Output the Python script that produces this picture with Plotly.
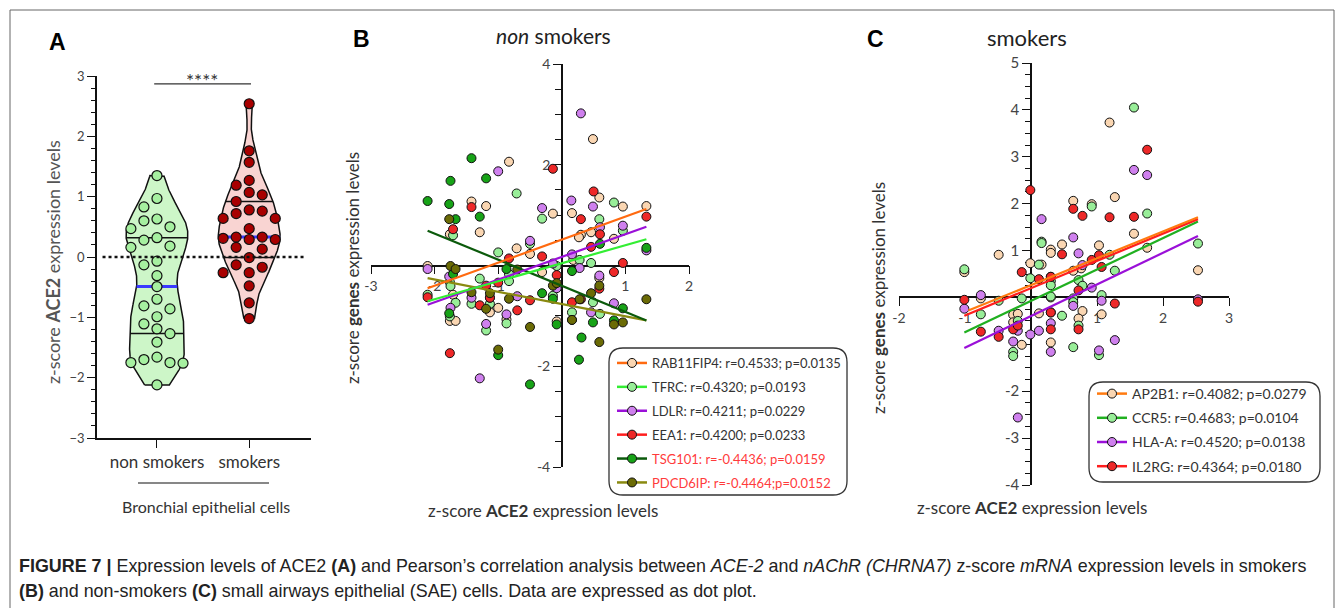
import numpy as np
import plotly.graph_objects as go

W, H = 1344, 608
OFF = 8  # page margin of the photographed page
FONT = "Lato, 'Open Sans', sans-serif"
GREY = "#444444"

# ---------------- Panel A data ----------------
a_categories = ["non smokers", "smokers"]
a_nonsmokers = [1.35, 0.97, 0.83, 0.60, 0.63, 0.50, 0.47, 0.32, 0.28, 0.18, 0.16, -0.07, -0.13,
                -0.31, -0.49, -0.70, -0.86, -0.81, -0.99, -1.11, -1.27, -1.19, -1.41, -1.75,
                -1.66, -1.76, -1.70, -1.75, -2.12]
a_smokers = [2.54, 1.76, 1.57, 1.27, 1.19, 1.07, 1.03, 0.92, 0.72, 0.76, 0.78, 0.64, 0.64, 0.47,
             0.29, 0.33, 0.29, 0.33, 0.31, 0.16, 0.13, -0.01, -0.13, -0.17, -0.26, -0.26, -0.48,
             -0.76, -1.02]

# ---------------- Panel B data (non smokers) ----------------
b_labels = ["RAB11FIP4: r=0.4533; p=0.0135", "TFRC: r=0.4320; p=0.0193",
            "LDLR: r=0.4211; p=0.0229", "EEA1: r=0.4200; p=0.0233",
            "TSG101: r=-0.4436; p=0.0159", "PDCD6IP: r=-0.4464;p=0.0152"]
b_rab_x = [-2.11, -1.76, -1.71, -1.76, -1.67, -1.42, -1.29, -1.19, -1.13, -1.00, -0.83, -0.71, -0.87,
           -0.50, -0.31, -0.14, -0.08, 0.16, 0.18, 0.30, 0.27, 0.49, 0.46, 0.59, 0.59, 0.82, 0.96, 1.33]
b_rab_y = [-0.01, 0.62, -0.58, -1.10, -1.10, 1.27, 0.66, 1.18, -0.93, -0.84, 2.06, 0.34, -1.07,
           0.23, -0.13, 1.03, -1.11, 1.04, 0.11, 0.61, 0.56, 2.51, 0.66, 1.35, -0.25, 0.53, 1.17, 1.18]
b_tfrc_x = [-2.11, -1.71, -1.76, -1.75, -1.67, -1.76, -1.42, -1.29, -1.13, -1.19, -1.00, -0.71, -0.83,
            -0.83, -0.87, -0.50, -0.31, -0.14, -0.08, 0.28, 0.46, 0.49, 0.59, 0.60, 0.16, 0.82, 0.96]
b_tfrc_y = [-0.58, 0.60, -0.33, -0.41, -0.74, -1.01, -0.76, -0.26, -0.76, -1.29, 0.26, 1.43, -0.17,
            -0.31, -1.15, 0.43, 0.93, -0.60, -0.01, 0.11, 0.05, -0.73, 0.92, -0.96, -0.93, 1.25, 0.69]
b_ldlr_x = [-2.11, -1.77, -1.75, -1.42, -1.29, -1.19, -1.13, -1.00, -0.87, -0.70, -0.50, -0.31, -0.14,
            -0.08, 0.15, 0.16, 0.28, 0.30, 0.49, 0.46, 0.60, 0.59, 0.82, 0.96, 1.33]
b_ldlr_y = [-0.07, -0.22, -0.84, -0.64, -2.24, -1.16, -0.64, 1.87, -0.97, -0.61, 0.49, 1.14, 0.04,
            -0.45, 1.29, 0.22, -0.05, 3.02, 1.17, -0.93, 0.76, -0.20, -0.75, 0.79, 0.30]
b_eea1_x = [-2.11, -1.71, -1.76, -1.42, -1.29, -1.19, -1.13, -1.00, -0.83, -0.70, -0.50, -0.31, -0.14,
            -0.08, 0.16, 0.30, 0.30, 0.46, 0.50, 0.60, 0.59, 0.82, 0.96, 1.33]
b_eea1_y = [-0.63, 0.72, -1.74, 1.16, -0.79, -0.40, -0.64, -0.34, 0.14, -0.89, -0.69, 0.18, 1.92,
            -0.19, -0.73, 0.92, -0.67, 0.37, 1.47, 0.62, -0.46, -0.13, 0.05, 0.97]
b_tsg_x = [-2.11, -1.75, -1.77, -1.67, -1.71, -1.77, -1.42, -1.29, -1.19, -1.00, -0.87, -0.50, -0.31,
           -0.14, -0.08, 0.16, 0.60, 0.16, 0.31, 0.27, 0.49, 0.82, 0.96, 1.33]
b_tsg_y = [1.28, 1.68, 1.22, 0.92, -0.17, -0.95, 2.13, 0.97, 1.73, -1.78, -0.07, -2.36, -0.55,
           -0.66, -1.17, -0.11, 0.43, -1.08, -1.43, -1.87, -1.13, -1.09, -0.85, 0.35]
b_pdc_x = [-1.75, -1.67, -1.77, -1.42, -1.13, -1.19, -1.00, -0.83, -0.70, -0.50, -0.14, -0.08, 0.28,
           0.16, 0.46, 0.59, 0.59, 0.82, 0.96, 1.33]
b_pdc_y = [-0.01, -0.07, 0.92, -0.53, -0.55, -0.86, -1.67, -0.66, -0.08, -1.22, -0.40, -0.35, -0.67,
           -1.08, -0.55, -0.40, -1.52, -1.17, -1.13, -0.67]
b_fit_x = [-2.11, 1.33]
b_fit_rab = [-0.45, 1.12]
b_fit_tfrc = [-0.71, 0.52]
b_fit_ldlr = [-0.78, 0.77]
b_fit_eea1 = [-0.60, 0.85]
b_fit_tsg = [0.69, -1.09]
b_fit_pdc = [-0.25, -1.09]

# ---------------- Panel C data (smokers) ----------------
c_labels = ["AP2B1: r=0.4082; p=0.0279", "CCR5: r=0.4683; p=0.0104",
            "HLA-A: r=0.4520; p=0.0138", "IL2RG: r=0.4364; p=0.0180"]
c_ap_x = [1.19, 1.27, 0.64, 0.92, 1.56, 1.76, 2.53, 0.30, 0.30, 0.47, 1.03, 0.76, -0.49, -1.01,
          -0.01, 0.16, -0.76, 0.30, -0.27, 0.12, 0.78, 1.07, -0.27, 0.72, -0.14, 0.30, -0.20, 0.64]
c_ap_y = [3.73, 2.14, 2.06, 1.99, 1.36, 1.06, 0.58, 1.02, 0.95, 1.13, 1.11, 0.62, 0.91, 0.54,
          0.73, 0.70, -0.02, 0.00, -0.37, -0.34, -0.29, -0.36, -0.53, -0.45, -1.01, -0.96, -0.35, 0.57]
c_ccr_x = [1.56, 0.92, 1.76, 2.53, 0.16, 0.16, 1.19, 1.27, -1.01, 0.12, -0.01, 0.30, 0.30, 0.72,
           0.78, -0.49, -0.14, 0.30, 0.64, 0.64, 1.07, -0.76, 0.47, -0.20, 0.64, -0.27, -0.27, 1.03, 0.72]
c_ccr_y = [4.05, 1.94, 1.79, 1.15, 1.19, 1.16, 0.91, 0.57, 0.60, 0.70, 0.41, 0.35, 0.26, 0.37,
           0.25, -0.07, -0.02, 0.02, -0.02, -0.10, 0.05, -0.36, -0.39, -0.50, -1.06, -1.16, -1.25, -1.23, -0.60]
c_hla_x = [1.56, 1.76, 0.16, 0.64, 0.72, 0.78, 0.92, 0.30, 2.53, -0.76, -1.01, 0.64, 1.07, 0.30,
           0.30, -0.49, -0.20, -0.01, 0.12, 1.27, -0.27, 0.30, 1.03, -0.20]
c_hla_y = [2.72, 2.61, 1.67, 1.28, 0.94, 0.69, 0.21, 0.44, -0.04, 0.05, -0.24, -0.18, -0.07, -0.32,
           -0.55, -0.71, -0.71, -0.79, -0.71, -0.91, -0.94, -1.16, -1.13, -2.56]
c_il_x = [1.76, -0.01, 0.64, 0.78, 1.19, 1.56, 0.47, 1.03, 0.92, 1.07, -0.14, 0.12, 0.30, 0.72,
          -1.01, 2.53, 1.27, 0.30, -0.76, -0.49, -0.27, -0.20, 0.30, 0.72]
c_il_y = [3.15, 2.29, 1.89, 1.74, 1.71, 1.72, 0.92, 0.90, 0.80, 0.65, 0.54, 0.39, 0.44, 0.15,
          -0.05, -0.09, -0.13, -0.32, -0.73, -0.84, -0.68, -0.60, -0.68, -0.68]
c_fit_ap = ([-0.95, 2.53], [-0.28, 1.71])
c_fit_il = ([-1.01, 2.53], [-0.39, 1.67])
c_fit_ccr = ([-1.01, 2.53], [-0.75, 1.62])
c_fit_hla = ([-1.01, 2.53], [-1.08, 1.31])

# ---------------- styles ----------------
PEACH, ORANGE = "#FAD6B2", "#FF6A10"
LGREEN, BGREEN = "#98EE98", "#33EE33"
VIOLET, PURPLE = "#CF80EE", "#9A10D8"
RED, REDLINE = "#EE2828", "#FF1E1E"
DGREEN, DGLINE = "#17A317", "#0B5A0B"
OLIVE, OLLINE = "#6B6B05", "#8A8A10"
CGREEN = "#20B020"
RTXT = "#FF3B3B"


def px(x):
    return (x - OFF) / W


def py(y):
    return 1 - (y - OFF) / H


fig = go.Figure()

# ---------------- Panel A ----------------
A_XPX, A_YPX = 92.0, 60.3  # px per unit


def kde_outline(vals, bw, halfmax):
    v = np.asarray(vals)
    ys = np.linspace(v.min(), v.max(), 300)
    d = np.exp(-0.5 * ((ys[:, None] - v[None, :]) / bw) ** 2).sum(axis=1)
    w = d / d.max() * halfmax
    return ys, w


def swarm(vals, step_px=13.0, diam_px=10.2):
    v = np.asarray(vals)
    order = np.argsort(-v)
    placed = []
    offs = np.zeros(len(v))
    for i in order:
        ypx = v[i] * A_YPX
        for k in [0, -1, 1, -2, 2, -3, 3]:
            xo = k * step_px
            if all(np.hypot(xo - p[0], ypx - p[1]) >= diam_px for p in placed):
                break
        placed.append((xo, ypx))
        offs[i] = xo
    return offs / A_XPX


a_groups = [(a_nonsmokers, 0, "#CDF6C8", "#A6F0A0", 0.30), (a_smokers, 1, "#F9D4D2", "#A80000", 0.25)]
for vals, c, vfill, mfill, bw in a_groups:
    ys, w = kde_outline(vals, bw, 0.335)
    xs = np.concatenate([c - w, (c + w)[::-1], [c - w[0]]])
    yy = np.concatenate([ys, ys[::-1], [ys[0]]])
    fig.add_trace(go.Scatter(x=xs, y=yy, mode="lines", fill="toself", fillcolor=vfill,
                             line=dict(color="#111111", width=1.5), showlegend=False,
                             hoverinfo="skip", xaxis="x", yaxis="y"))
    for q, col, lw in [(25, "#111111", 1.5), (75, "#111111", 1.5), (50, "#3A3AFF", 3)]:
        qv = np.percentile(vals, q)
        qw = np.interp(qv, ys, w)
        fig.add_trace(go.Scatter(x=[c - qw, c + qw], y=[qv, qv], mode="lines",
                                 line=dict(color=col, width=lw), showlegend=False,
                                 hoverinfo="skip", xaxis="x", yaxis="y"))
    fig.add_trace(go.Scatter(x=c + swarm(vals), y=vals, mode="markers",
                             marker=dict(size=10, color=mfill, line=dict(color="#111111", width=1.2)),
                             showlegend=False, xaxis="x", yaxis="y"))

# ---------------- Panel B ----------------
b_series = [
    (b_rab_x, b_rab_y, b_fit_rab, PEACH, ORANGE, b_labels[0]),
    (b_tfrc_x, b_tfrc_y, b_fit_tfrc, LGREEN, BGREEN, b_labels[1]),
    (b_ldlr_x, b_ldlr_y, b_fit_ldlr, VIOLET, PURPLE, b_labels[2]),
    (b_eea1_x, b_eea1_y, b_fit_eea1, RED, REDLINE, b_labels[3]),
    (b_tsg_x, b_tsg_y, b_fit_tsg, DGREEN, DGLINE, b_labels[4]),
    (b_pdc_x, b_pdc_y, b_fit_pdc, OLIVE, OLLINE, b_labels[5]),
]
for xs, ys, fit, fc, lc, lab in b_series:
    fig.add_trace(go.Scatter(x=xs, y=ys, mode="markers", xaxis="x2", yaxis="y2",
                             marker=dict(size=9, color=fc, line=dict(color="#111111", width=1)),
                             showlegend=False))
for xs, ys, fit, fc, lc, lab in b_series[::-1]:
    if lab == b_labels[3]:
        continue
    fig.add_trace(go.Scatter(x=b_fit_x, y=fit, mode="lines", xaxis="x2", yaxis="y2",
                             line=dict(color=lc, width=2.2), showlegend=False, hoverinfo="skip"))
for i, (xs, ys, fit, fc, lc, lab) in enumerate(b_series):
    name = lab if i < 4 else f"<span style='color:{RTXT}'>{lab}</span>"
    fig.add_trace(go.Scatter(x=[None], y=[None], mode="lines+markers", xaxis="x2", yaxis="y2",
                             line=dict(color=lc, width=2.5),
                             marker=dict(size=9, color=fc, line=dict(color="#111111", width=1)),
                             name=name, legend="legend", legendgroup=f"b{i}"))

# ---------------- Panel C ----------------
c_series = [
    (c_ap_x, c_ap_y, c_fit_ap, PEACH, "#FF7A10", c_labels[0]),
    (c_ccr_x, c_ccr_y, c_fit_ccr, LGREEN, CGREEN, c_labels[1]),
    (c_hla_x, c_hla_y, c_fit_hla, VIOLET, PURPLE, c_labels[2]),
    (c_il_x, c_il_y, c_fit_il, RED, REDLINE, c_labels[3]),
]
for xs, ys, fit, fc, lc, lab in c_series:
    fig.add_trace(go.Scatter(x=xs, y=ys, mode="markers", xaxis="x3", yaxis="y3",
                             marker=dict(size=9, color=fc, line=dict(color="#111111", width=1)),
                             showlegend=False))
for xs, ys, fit, fc, lc, lab in [c_series[2], c_series[1], c_series[3], c_series[0]]:
    fig.add_trace(go.Scatter(x=fit[0], y=fit[1], mode="lines", xaxis="x3", yaxis="y3",
                             line=dict(color=lc, width=2.2), showlegend=False, hoverinfo="skip"))
for i, (xs, ys, fit, fc, lc, lab) in enumerate(c_series):
    fig.add_trace(go.Scatter(x=[None], y=[None], mode="lines+markers", xaxis="x3", yaxis="y3",
                             line=dict(color=lc, width=2.5),
                             marker=dict(size=9, color=fc, line=dict(color="#111111", width=1)),
                             name=lab, legend="legend2", legendgroup=f"c{i}"))

# ---------------- axes ----------------
tickfont = dict(family=FONT, size=14, color=GREY)
A_dom_x = [px(97), px(311)]
A_dom_y = [py(438), py(76)]
B_dom_x = [px(371), px(689)]
B_dom_y = [py(467), py(64)]
C_dom_x = [px(899), px(1229)]
C_dom_y = [py(485), py(63)]
B_rx, B_ry = [-3, 2], [-4, 4]
C_rx, C_ry = [-2, 3], [-4, 5]


def cross(dom, rng):
    return dom[0] + (0 - rng[0]) / (rng[1] - rng[0]) * (dom[1] - dom[0])


common = dict(showgrid=False, zeroline=False, showline=True, linecolor="#111111", linewidth=1.5,
              ticks="outside", tickcolor="#111111", tickwidth=1.2, layer="below traces",
              automargin=False)

fig.update_layout(
    xaxis=dict(domain=A_dom_x, range=[-0.65, 1.67], anchor="y", tickvals=[0, 1],
               ticktext=a_categories, ticklen=8,
               tickfont=dict(family=FONT, size=17, color="#333333"), **common),
    yaxis=dict(domain=A_dom_y, range=[-3, 3], anchor="x", tickvals=[-3, -2, -1, 0, 1, 2, 3],
               ticklen=8, tickfont=dict(family=FONT, size=13, color=GREY),
               minor=dict(dtick=0.2, ticklen=4, ticks="outside", tickcolor="#111111"), **common),
    xaxis2=dict(domain=B_dom_x, range=B_rx, anchor="free", position=cross(B_dom_y, B_ry),
                tickvals=[-3, -2, -1, 0, 1, 2], ticktext=["-3", "-2", "-1", "", "1", "2"],
                ticklen=8, tickfont=tickfont, **common),
    yaxis2=dict(domain=B_dom_y, range=B_ry, anchor="free", position=cross(B_dom_x, B_rx),
                tickvals=[-4, -2, 0, 2, 4], ticktext=["-4", "-2", "", "2", "4"], ticklen=8,
                tickfont=tickfont,
                minor=dict(dtick=0.5, ticklen=6, ticks="outside", tickcolor="#111111"), **common),
    xaxis3=dict(domain=C_dom_x, range=C_rx, anchor="free", position=cross(C_dom_y, C_ry),
                tickvals=[-2, -1, 0, 1, 2, 3], ticktext=["-2", "-1", "", "1", "2", "3"],
                ticklen=8, tickfont=tickfont, **common),
    yaxis3=dict(domain=C_dom_y, range=C_ry, anchor="free", position=cross(C_dom_x, C_rx),
                tickvals=[-4, -3, -2, -1, 0, 1, 2, 3, 4, 5],
                ticktext=["-4", "-3", "-2", "", "", "1", "2", "3", "4", "5"], ticklen=8,
                tickfont=dict(family=FONT, size=15, color=GREY),
                minor=dict(dtick=0.25, ticklen=5, ticks="outside", tickcolor="#111111"), **common),
)

# ---------------- legends ----------------
fig.update_layout(
    legend=dict(x=px(612), y=py(348), xanchor="left", yanchor="top", bgcolor="rgba(0,0,0,0)",
                font=dict(family=FONT, size=13, color="#333333"), tracegroupgap=4, itemwidth=30),
    legend2=dict(x=px(1092), y=py(378), xanchor="left", yanchor="top", bgcolor="rgba(0,0,0,0)",
                 font=dict(family=FONT, size=14, color="#333333"), tracegroupgap=3, itemwidth=30),
)


def rounded(x0, y0, x1, y1, r):
    def P(x, y):
        return f"{px(x):.5f},{py(y):.5f}"
    path = (f"M {P(x0 + r, y0)} L {P(x1 - r, y0)} Q {P(x1, y0)} {P(x1, y0 + r)} "
            f"L {P(x1, y1 - r)} Q {P(x1, y1)} {P(x1 - r, y1)} L {P(x0 + r, y1)} "
            f"Q {P(x0, y1)} {P(x0, y1 - r)} L {P(x0, y0 + r)} Q {P(x0, y0)} {P(x0 + r, y0)} Z")
    return dict(type="path", path=path, xref="paper", yref="paper",
                line=dict(color="#333333", width=1.3))


shapes = [
    rounded(609, 348, 847, 495, 14),
    rounded(1089, 382, 1320, 482, 14),
    # outer frame
    dict(type="rect", xref="paper", yref="paper", x0=px(10), x1=px(1334), y0=-0.05, y1=py(10),
         line=dict(color="#666666", width=1)),
    # zero dotted line panel A
    dict(type="line", xref="x", yref="y", x0=-0.59, x1=1.62, y0=0, y1=0,
         line=dict(color="#111111", width=2.5, dash="dot")),
    # significance bar
    dict(type="line", xref="x", yref="y", x0=-0.03, x1=1.02, y0=2.87, y1=2.87,
         line=dict(color="#333333", width=1.2)),
    # group underline
    dict(type="line", xref="paper", yref="paper", x0=px(138), x1=px(269), y0=py(483), y1=py(483),
         line=dict(color="#111111", width=1.2)),
]
fig.update_layout(shapes=shapes)

# ---------------- annotations ----------------
def ann(text, x, y, size, color="#222222", angle=0, family=FONT, xanchor="center"):
    return dict(text=text, x=px(x), y=py(y), xref="paper", yref="paper", showarrow=False,
                font=dict(family=family, size=size, color=color), textangle=angle,
                xanchor=xanchor, yanchor="middle")


AR = "Arial, 'Liberation Sans', sans-serif"
NARROW = "'Liberation Sans Narrow', 'Arial Narrow', 'Liberation Sans', sans-serif"
anns = [
    ann("<b>A</b>", 57, 42, 23, "#000000", family=AR),
    ann("<b>B</b>", 361, 39, 23, "#000000", family=AR),
    ann("<b>C</b>", 875, 39, 23, "#000000", family=AR),
    ann("<i>non</i> smokers", 553, 36, 21, "#222222"),
    ann("smokers", 1027, 38, 22, "#222222"),
    ann("****", 202, 80, 19, "#333333"),
    ann("Bronchial epithelial cells", 206, 506, 16, "#333333"),
    ann("z-score <b>ACE2</b> expression levels", 53, 262, 18, "#555555", angle=-90),
    ann("z-score <b>genes</b> expression levels", 353, 268, 17, "#333333", angle=-90),
    ann("z-score <b>genes</b> expression levels", 878, 298, 17, "#333333", angle=-90),
    ann("z-score <b>ACE2</b> expression levels", 543, 510, 17, "#333333"),
    ann("z-score <b>ACE2</b> expression levels", 1032, 507, 17, "#333333"),
    ann("<b>FIGURE 7 |</b> Expression levels of ACE2 <b>(A)</b> and Pearson’s correlation analysis "
        "between <i>ACE-2</i> and <i>nAChR (CHRNA7)</i> z-score <i>mRNA</i> expression levels in smokers",
        17, 566, 17.9, "#222222", family=NARROW, xanchor="left"),
    ann("<b>(B)</b> and non-smokers <b>(C)</b> small airways epithelial (SAE) cells. "
        "Data are expressed as dot plot.", 17, 591, 17.9, "#222222", family=NARROW, xanchor="left"),
]
fig.update_layout(annotations=anns)

fig.update_layout(width=W, height=H, margin=dict(l=0, r=0, t=0, b=0, pad=0, autoexpand=False),
                  plot_bgcolor="white", paper_bgcolor="white", showlegend=True,
                  font=dict(family=FONT))

fig.write_html("out.html")
